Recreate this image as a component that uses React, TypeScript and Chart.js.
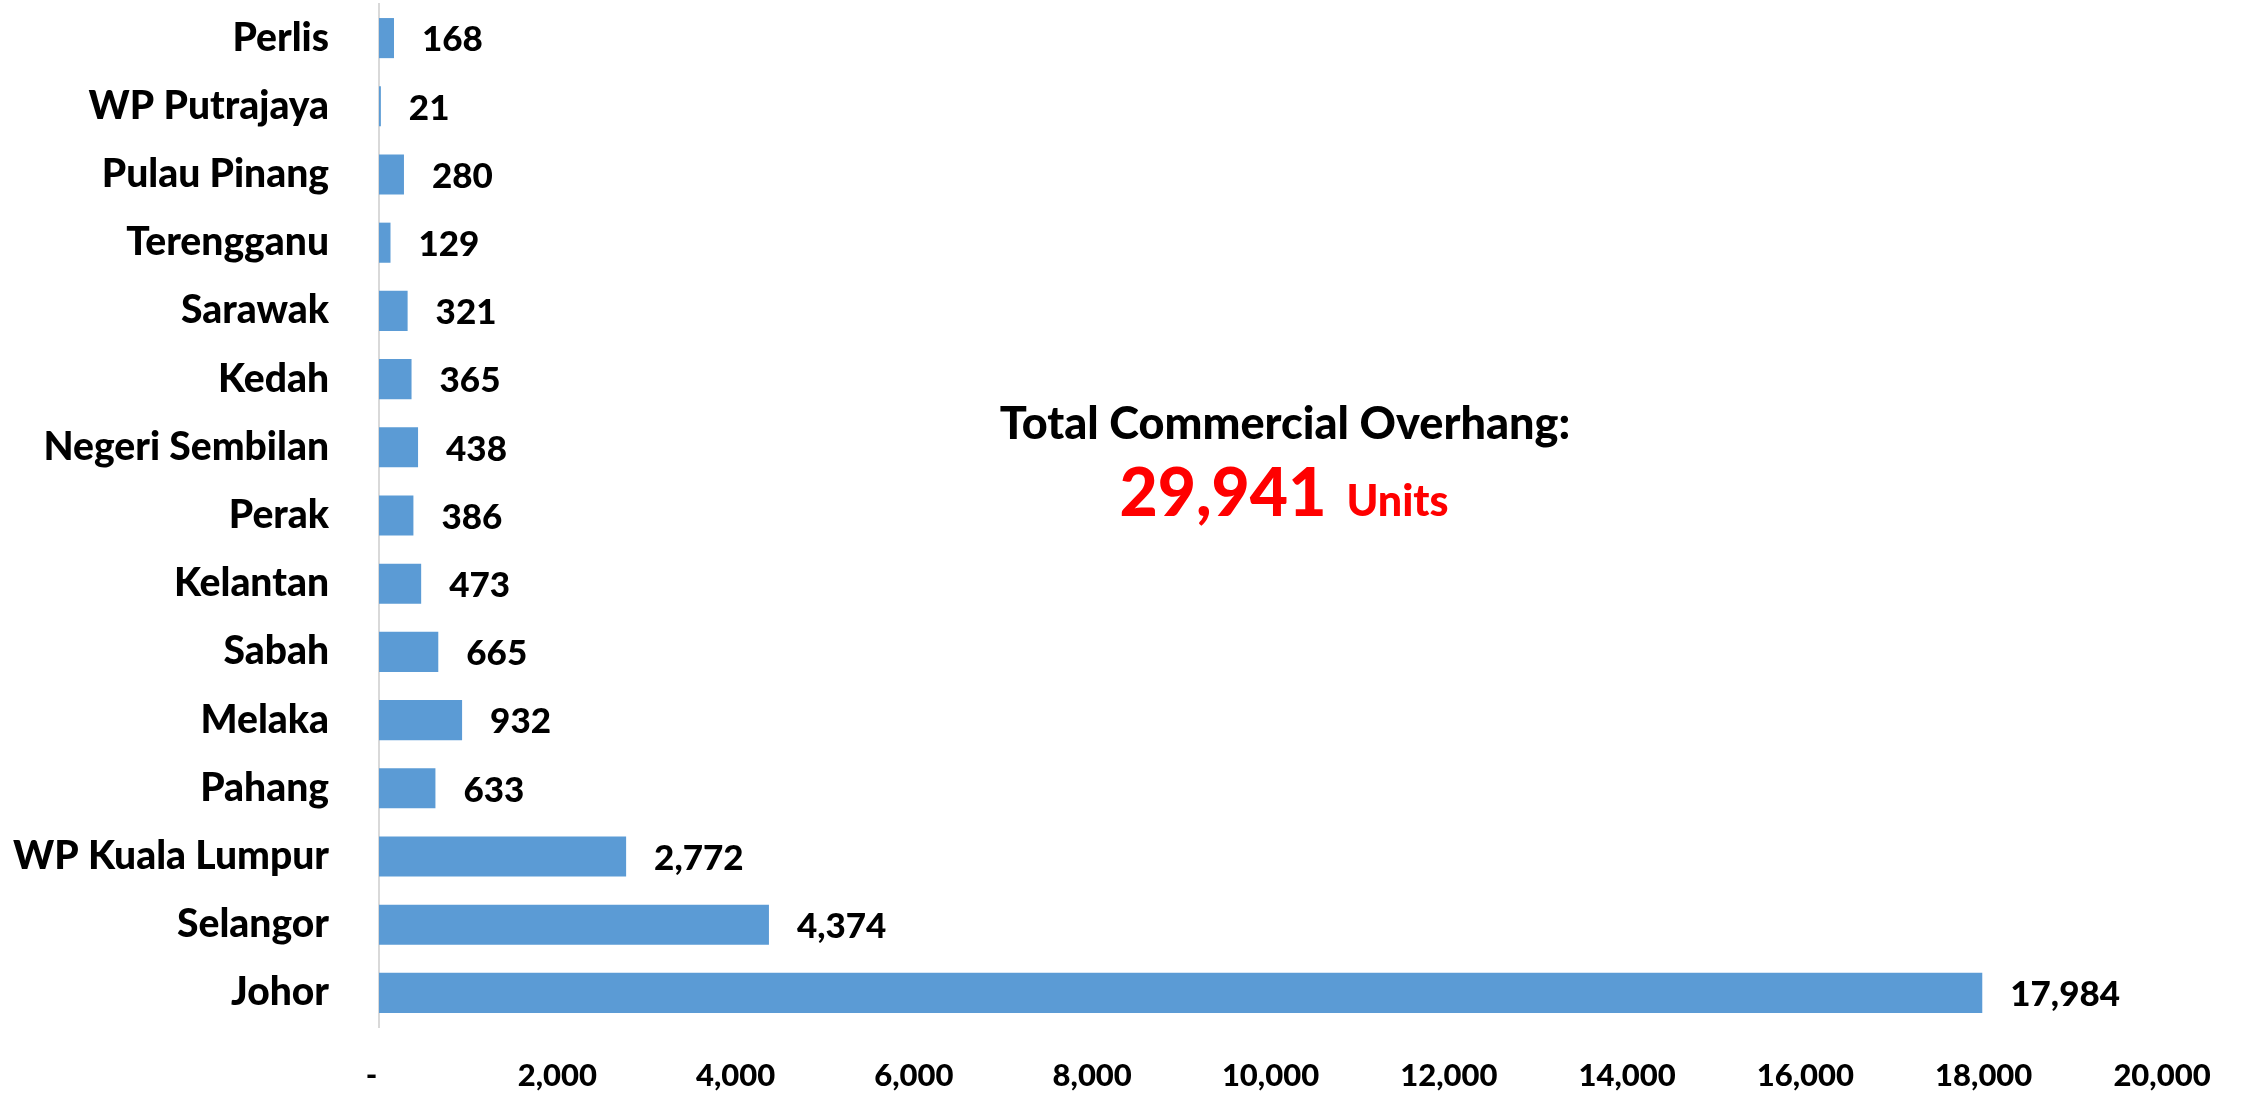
import React, { useEffect, useRef } from "react";
import { Chart, registerables } from "chart.js";

Chart.register(...registerables);

const categories = [
  "Perlis",
  "WP Putrajaya",
  "Pulau Pinang",
  "Terengganu",
  "Sarawak",
  "Kedah",
  "Negeri Sembilan",
  "Perak",
  "Kelantan",
  "Sabah",
  "Melaka",
  "Pahang",
  "WP Kuala Lumpur",
  "Selangor",
  "Johor",
];

const overhangUnits = [168, 21, 280, 129, 321, 365, 438, 386, 473, 665, 932, 633, 2772, 4374, 17984];

const xTicks = [0, 2000, 4000, 6000, 8000, 10000, 12000, 14000, 16000, 18000, 20000];

const totalTitle = "Total Commercial Overhang:";
const totalValue = "29,941";
const totalUnit = "Units";

const FONT = "Lato, 'Open Sans', sans-serif";
const W = "900";

const fmt = (v: number) => (v === 0 ? "-  " : v.toLocaleString("en-US"));

export default function App() {
  const ref = useRef<HTMLCanvasElement | null>(null);

  useEffect(() => {
    document.body.style.margin = "0";
    document.body.style.overflow = "hidden";
    const canvas = ref.current;
    if (!canvas) return;

    const labelPlugin = {
      id: "valueLabels",
      afterDatasetsDraw(chart: any) {
        const ctx = chart.ctx;
        const meta = chart.getDatasetMeta(0);
        ctx.save();
        ctx.font = `${W} 35px ${FONT}`;
        ctx.fillStyle = "#000000";
        ctx.textAlign = "left";
        ctx.textBaseline = "middle";
        meta.data.forEach((bar: any, i: number) => {
          const v = chart.data.datasets[0].data[i] as number;
          ctx.fillText(v.toLocaleString("en-US"), bar.x + 28, bar.y + 2);
        });
        ctx.restore();
      },
      afterDraw(chart: any) {
        const ctx = chart.ctx;
        ctx.save();
        ctx.textBaseline = "alphabetic";
        ctx.textAlign = "center";
        ctx.fillStyle = "#000000";
        ctx.font = `${W} 45px ${FONT}`;
        ctx.fillText(totalTitle, 1285, 439);
        ctx.font = `${W} 66px ${FONT}`;
        const w1 = ctx.measureText(totalValue).width;
        ctx.font = `${W} 43px ${FONT}`;
        const w2 = ctx.measureText(totalUnit).width;
        const gap = 20;
        const total = w1 + gap + w2;
        const startX = 1284 - total / 2;
        ctx.textAlign = "left";
        ctx.fillStyle = "#FF0000";
        ctx.font = `${W} 66px ${FONT}`;
        ctx.fillText(totalValue, startX, 516);
        ctx.font = `${W} 43px ${FONT}`;
        ctx.fillText(totalUnit, startX + w1 + gap, 516);
        ctx.restore();
      },
    };

    const chart = new Chart(canvas, {
      type: "bar",
      data: {
        labels: categories,
        datasets: [
          {
            data: overhangUnits,
            backgroundColor: "#5B9BD5",
            borderWidth: 0,
            barPercentage: 0.588,
            categoryPercentage: 1,
          },
        ],
      },
      options: {
        indexAxis: "y",
        responsive: false,
        animation: false,
        layout: { padding: { top: 4, right: 79, left: 0, bottom: 0 } },
        plugins: {
          legend: { display: false },
          tooltip: { enabled: false },
        },
        scales: {
          x: {
            min: 0,
            max: 20000,
            afterBuildTicks: (scale: any) => {
              scale.ticks = xTicks.map((v) => ({ value: v }));
            },
            afterFit: (scale: any) => {
              scale.height = 67;
              scale.paddingLeft = 0;
              scale.paddingRight = 0;
            },
            grid: { display: false, drawTicks: false },
            border: { display: false },
            ticks: {
              padding: 30,
              maxRotation: 0,
              autoSkip: false,
              color: "#000000",
              font: { family: FONT, size: 31, weight: W },
              callback: (v: any) => fmt(Number(v)),
            },
          },
          y: {
            afterFit: (scale: any) => {
              scale.width = 379;
              scale.paddingTop = 0;
              scale.paddingBottom = 0;
            },
            grid: { display: false, drawTicks: false },
            border: { display: true, color: "#D9D9D9", width: 2 },
            ticks: {
              padding: 50,
              autoSkip: false,
              color: "#000000",
              font: { family: FONT, size: 39, weight: W },
            },
          },
        },
      },
      plugins: [labelPlugin],
    } as any);

    return () => chart.destroy();
  }, []);

  return (
    <div style={{ position: "absolute", left: 0, top: 0, width: 2241, height: 1094, background: "#ffffff" }}>
      <canvas ref={ref} width={2241} height={1094} style={{ width: 2241, height: 1094, display: "block" }} />
    </div>
  );
}
